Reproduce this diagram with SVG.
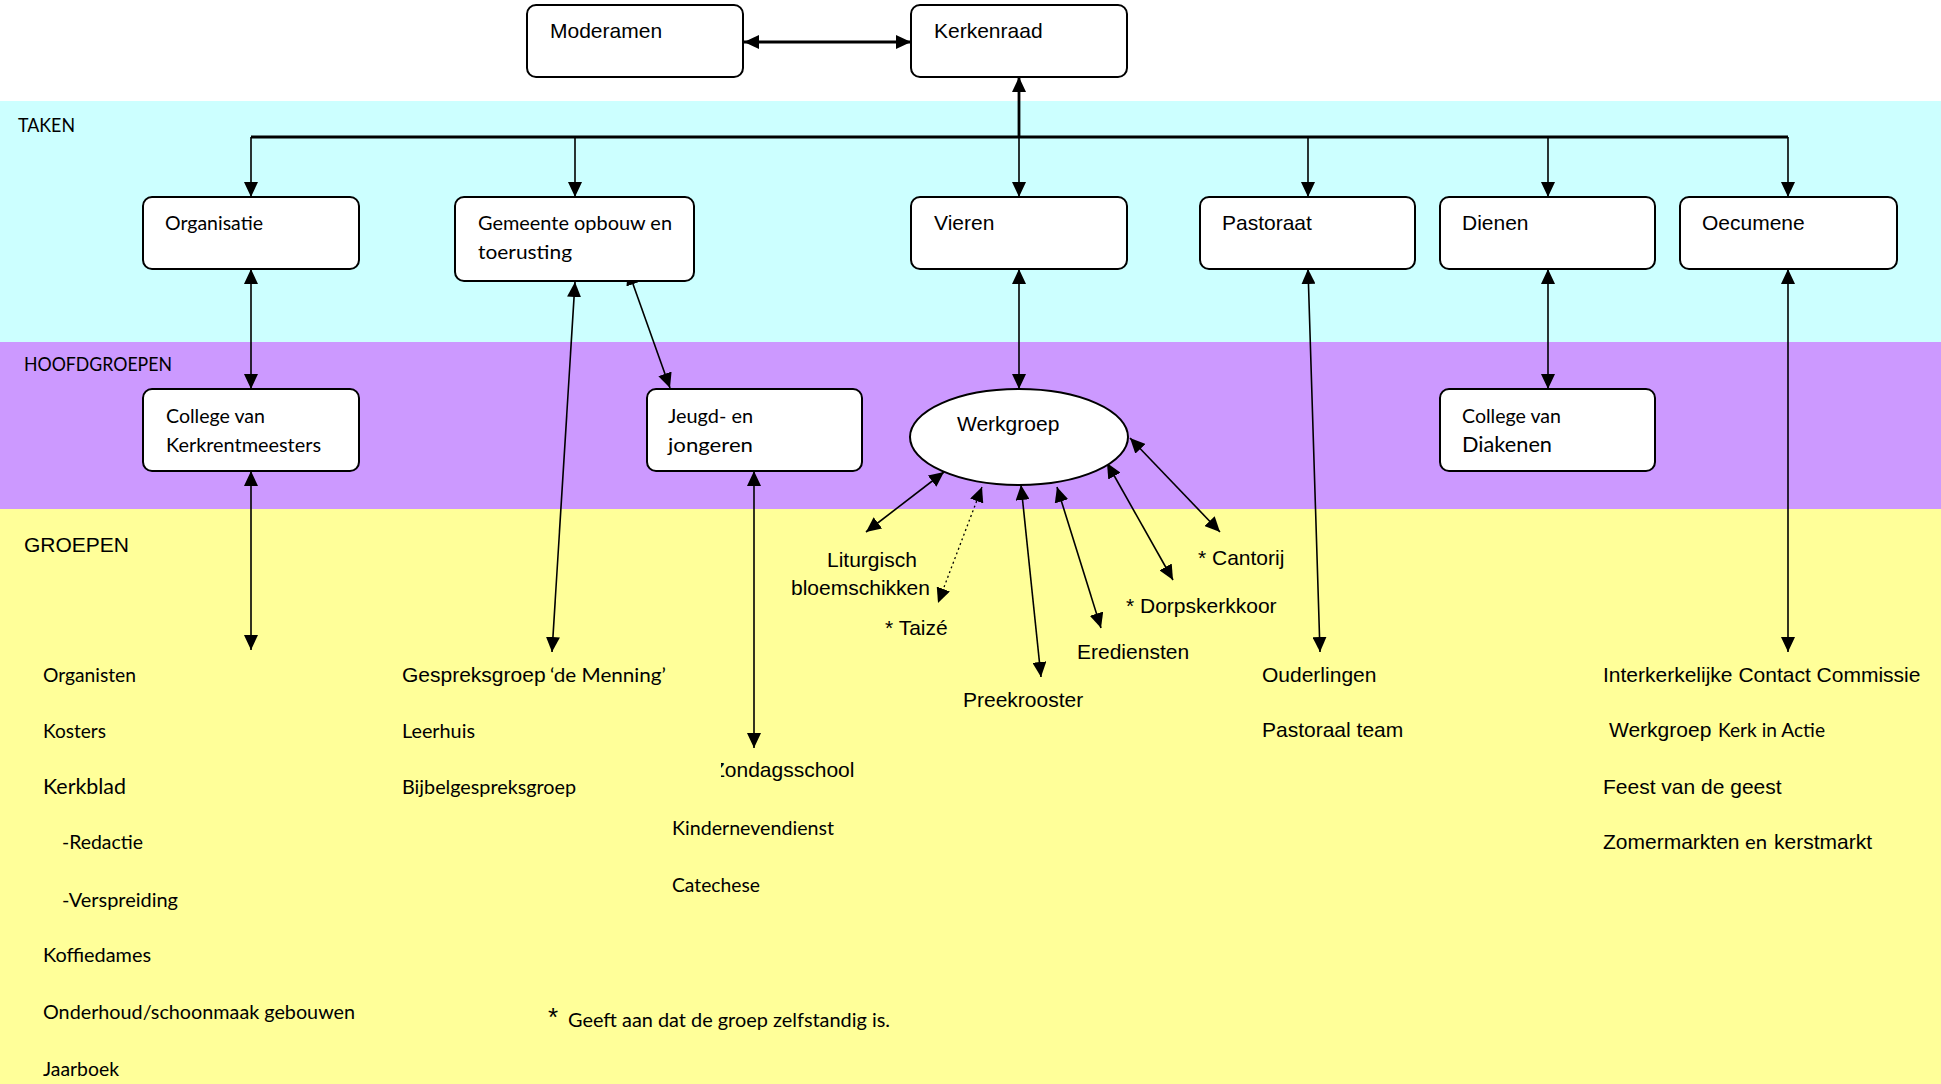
<svg xmlns="http://www.w3.org/2000/svg" width="1941" height="1084" viewBox="0 0 1941 1084">
<style>
.box{fill:#fff;stroke:#000;stroke-width:2}
.a{font-family:"Liberation Sans",Arial,sans-serif;font-size:21px;fill:#000}
.c{font-family:Lato,"Liberation Sans",sans-serif;font-size:18.5px;fill:#000}
.ln{stroke:#000;stroke-width:1.6;fill:none}
.thick{stroke:#000;stroke-width:2.8;fill:none}
.dot{stroke:#000;stroke-width:1.3;stroke-dasharray:2,3;fill:none}
</style>
<defs>
<marker id="ah" markerUnits="userSpaceOnUse" markerWidth="16" markerHeight="14" refX="15" refY="7" orient="auto-start-reverse" viewBox="0 0 16 14"><path d="M0,0 L15,7 L0,14 z" fill="#000"/></marker>
<clipPath id="zclip"><rect x="721" y="750" width="200" height="40"/></clipPath>
</defs>
<g id="bands">
<rect x="0" y="0" width="1941" height="101" fill="#fff"/>
<rect x="0" y="101" width="1941" height="241" fill="#CCFFFF"/>
<rect x="0" y="342" width="1941" height="167" fill="#CC99FF"/>
<rect x="0" y="509" width="1941" height="575" fill="#FFFF99"/>
<text class="c" x="18" y="132" textLength="57" lengthAdjust="spacingAndGlyphs">TAKEN</text>
<text class="c" x="24" y="371" textLength="148" lengthAdjust="spacingAndGlyphs">HOOFDGROEPEN</text>
<text class="a" x="24" y="552">GROEPEN</text>
</g>
<g id="connectors">
<line class="thick" x1="744" y1="42" x2="911" y2="42" marker-start="url(#ah)" marker-end="url(#ah)"/>
<line class="thick" x1="1019" y1="137" x2="1019" y2="77" marker-end="url(#ah)"/>
<line class="thick" x1="251" y1="137" x2="1788" y2="137"/>
<line class="ln" x1="251" y1="137" x2="251" y2="197" marker-end="url(#ah)"/>
<line class="ln" x1="575" y1="137" x2="575" y2="197" marker-end="url(#ah)"/>
<line class="ln" x1="1019" y1="137" x2="1019" y2="197" marker-end="url(#ah)"/>
<line class="ln" x1="1308" y1="137" x2="1308" y2="197" marker-end="url(#ah)"/>
<line class="ln" x1="1548" y1="137" x2="1548" y2="197" marker-end="url(#ah)"/>
<line class="ln" x1="1788" y1="137" x2="1788" y2="197" marker-end="url(#ah)"/>
<line class="ln" x1="251" y1="269" x2="251" y2="389" marker-start="url(#ah)" marker-end="url(#ah)"/>
<line class="ln" x1="251" y1="471" x2="251" y2="650" marker-start="url(#ah)" marker-end="url(#ah)"/>
<line class="ln" x1="575" y1="282" x2="552" y2="652" marker-start="url(#ah)" marker-end="url(#ah)"/>
<line class="ln" x1="628" y1="270" x2="670" y2="388" marker-start="url(#ah)" marker-end="url(#ah)"/>
<line class="ln" x1="754" y1="471" x2="754" y2="748" marker-start="url(#ah)" marker-end="url(#ah)"/>
<line class="ln" x1="1019" y1="269" x2="1019" y2="389" marker-start="url(#ah)" marker-end="url(#ah)"/>
<line class="ln" x1="944" y1="472" x2="866" y2="532" marker-start="url(#ah)" marker-end="url(#ah)"/>
<line class="dot" x1="982" y1="487" x2="938" y2="603" marker-start="url(#ah)" marker-end="url(#ah)"/>
<line class="ln" x1="1021" y1="485" x2="1041" y2="677" marker-start="url(#ah)" marker-end="url(#ah)"/>
<line class="ln" x1="1057" y1="487" x2="1101" y2="628" marker-start="url(#ah)" marker-end="url(#ah)"/>
<line class="ln" x1="1107" y1="463" x2="1173" y2="580" marker-start="url(#ah)" marker-end="url(#ah)"/>
<line class="ln" x1="1130" y1="438" x2="1220" y2="532" marker-start="url(#ah)" marker-end="url(#ah)"/>
<line class="ln" x1="1308" y1="269" x2="1320" y2="652" marker-start="url(#ah)" marker-end="url(#ah)"/>
<line class="ln" x1="1548" y1="269" x2="1548" y2="389" marker-start="url(#ah)" marker-end="url(#ah)"/>
<line class="ln" x1="1788" y1="269" x2="1788" y2="652" marker-start="url(#ah)" marker-end="url(#ah)"/>
</g>
<g id="moderamen"><rect class="box" x="527" y="5" width="216" height="72" rx="9"/><text class="a" x="550" y="38">Moderamen</text></g>
<g id="kerkenraad"><rect class="box" x="911" y="5" width="216" height="72" rx="9"/><text class="a" x="934" y="38">Kerkenraad</text></g>
<g id="organisatie"><rect class="box" x="143" y="197" width="216" height="72" rx="9"/><text class="c" x="165" y="230" textLength="98" lengthAdjust="spacingAndGlyphs">Organisatie</text></g>
<g id="gemeente"><rect class="box" x="455" y="197" width="239" height="84" rx="9"/><text class="c" x="478" y="230" textLength="194" lengthAdjust="spacingAndGlyphs">Gemeente opbouw en</text><text class="c" x="478" y="259" textLength="94" lengthAdjust="spacingAndGlyphs">toerusting</text></g>
<g id="vieren"><rect class="box" x="911" y="197" width="216" height="72" rx="9"/><text class="a" x="934" y="230">Vieren</text></g>
<g id="pastoraat"><rect class="box" x="1200" y="197" width="215" height="72" rx="9"/><text class="a" x="1222" y="230">Pastoraat</text></g>
<g id="dienen"><rect class="box" x="1440" y="197" width="215" height="72" rx="9"/><text class="a" x="1462" y="230">Dienen</text></g>
<g id="oecumene"><rect class="box" x="1680" y="197" width="217" height="72" rx="9"/><text class="a" x="1702" y="230">Oecumene</text></g>
<g id="kerkrentmeesters"><rect class="box" x="143" y="389" width="216" height="82" rx="9"/><text class="c" x="166" y="423" textLength="99" lengthAdjust="spacingAndGlyphs">College van</text><text class="c" x="166" y="452" textLength="155" lengthAdjust="spacingAndGlyphs">Kerkrentmeesters</text></g>
<g id="jeugd"><rect class="box" x="647" y="389" width="215" height="82" rx="9"/><text class="c" x="668" y="423" textLength="85" lengthAdjust="spacingAndGlyphs">Jeugd- en</text><text class="c" x="668" y="452" textLength="85" lengthAdjust="spacingAndGlyphs">jongeren</text></g>
<g id="werkgroep"><ellipse cx="1019" cy="437" rx="109" ry="48" fill="#fff" stroke="#000" stroke-width="2"/><text class="a" x="957" y="431">Werkgroep</text></g>
<g id="diakenen"><rect class="box" x="1440" y="389" width="215" height="82" rx="9"/><text class="c" x="1462" y="423" textLength="99" lengthAdjust="spacingAndGlyphs">College van</text><text class="c" x="1462" y="452" style="font-size:20.5px" textLength="90" lengthAdjust="spacingAndGlyphs">Diakenen</text></g>
<g id="werkgroep-items">
<text class="a" x="827" y="567">Liturgisch</text>
<text class="a" x="791" y="595">bloemschikken</text>
<text class="a" x="885" y="635">* Taizé</text>
<text class="a" x="963" y="707">Preekrooster</text>
<text class="a" x="1077" y="659">Erediensten</text>
<text class="a" x="1126" y="613">* Dorpskerkkoor</text>
<text class="a" x="1198" y="565">* Cantorij</text>
</g>
<g id="organisatie-groepen">
<text class="c" x="43" y="682" textLength="93" lengthAdjust="spacingAndGlyphs">Organisten</text>
<text class="c" x="43" y="738" textLength="63" lengthAdjust="spacingAndGlyphs">Kosters</text>
<text class="c" x="43" y="794" style="font-size:21px" textLength="83" lengthAdjust="spacingAndGlyphs">Kerkblad</text>
<text class="c" x="62" y="849" textLength="81" lengthAdjust="spacingAndGlyphs">-Redactie</text>
<text class="c" x="62" y="907" textLength="116" lengthAdjust="spacingAndGlyphs">-Verspreiding</text>
<text class="c" x="43" y="962" textLength="108" lengthAdjust="spacingAndGlyphs">Koffiedames</text>
<text class="c" x="43" y="1019" textLength="312" lengthAdjust="spacingAndGlyphs">Onderhoud/schoonmaak gebouwen</text>
<text class="c" x="43" y="1076" textLength="76" lengthAdjust="spacingAndGlyphs">Jaarboek</text>
</g>
<g id="gemeente-groepen">
<text x="402" y="682"><tspan class="a">Gespreksgroep</tspan><tspan class="c" x="550" textLength="116" lengthAdjust="spacingAndGlyphs">‘de Menning’</tspan></text>
<text class="c" x="402" y="738" textLength="73" lengthAdjust="spacingAndGlyphs">Leerhuis</text>
<text class="c" x="402" y="794" textLength="174" lengthAdjust="spacingAndGlyphs">Bijbelgespreksgroep</text>
</g>
<g id="jeugd-groepen">
<text class="a" x="712" y="777" clip-path="url(#zclip)">Zondagsschool</text>
<text class="c" x="672" y="835" textLength="162" lengthAdjust="spacingAndGlyphs">Kindernevendienst</text>
<text class="c" x="672" y="892" textLength="88" lengthAdjust="spacingAndGlyphs">Catechese</text>
</g>
<g id="pastoraat-groepen">
<text class="a" x="1262" y="682">Ouderlingen</text>
<text class="a" x="1262" y="737">Pastoraal team</text>
</g>
<g id="oecumene-groepen">
<text class="a" x="1603" y="682">Interkerkelijke Contact Commissie</text>
<text x="1609" y="737"><tspan class="a">Werkgroep</tspan><tspan class="c" x="1718" textLength="107" lengthAdjust="spacingAndGlyphs">Kerk in Actie</tspan></text>
<text class="a" x="1603" y="794">Feest van de geest</text>
<text x="1603" y="849"><tspan class="a">Zomermarkten</tspan><tspan class="c" x="1745" textLength="22" lengthAdjust="spacingAndGlyphs">en</tspan><tspan class="a" x="1774">kerstmarkt</tspan></text>
</g>
<g id="legenda">
<text class="a" x="548" y="1026" style="font-size:26px">*</text>
<text class="c" x="568" y="1027" textLength="322" lengthAdjust="spacingAndGlyphs">Geeft aan dat de groep zelfstandig is.</text>
</g>
</svg>
